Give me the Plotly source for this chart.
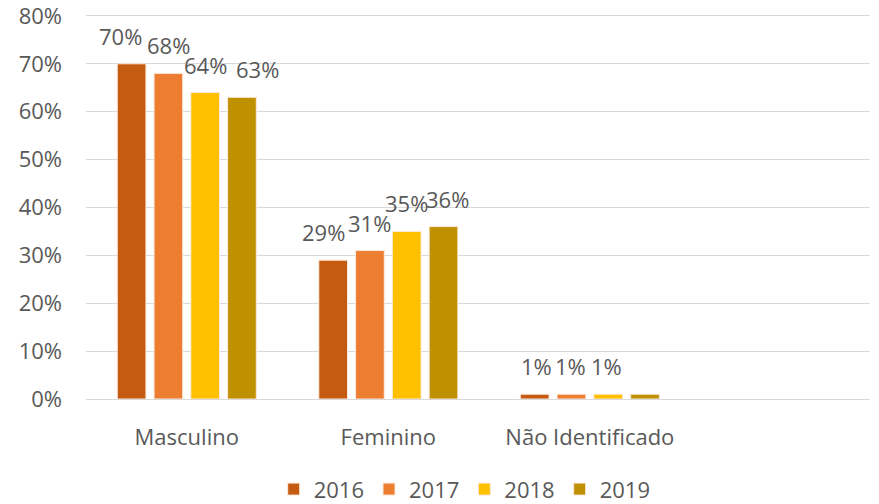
import plotly.graph_objects as go

categories = ["Masculino", "Feminino", "Não Identificado"]
years = ["2016", "2017", "2018", "2019"]
values = {
    "2016": [0.70, 0.29, 0.01],
    "2017": [0.68, 0.31, 0.01],
    "2018": [0.64, 0.35, 0.01],
    "2019": [0.63, 0.36, 0.01],
}
labels = {
    "2016": ["70%", "29%", "1%"],
    "2017": ["68%", "31%", "1%"],
    "2018": ["64%", "35%", "1%"],
    "2019": ["63%", "36%", ""],
}
colors = ["#C55A11", "#ED7D31", "#FFC000", "#BF9000"]
y_ticks = [0, 0.1, 0.2, 0.3, 0.4, 0.5, 0.6, 0.7, 0.8]

# small sideways nudges so neighbouring labels do not collide (as in the source)
label_nudge = {
    "2016": [-11, -10, 2],
    "2017": [0, 0, -1],
    "2018": [0, 0, -2],
    "2019": [16, 4, 0],
}

font_family = "Open Sans, Noto Sans, sans-serif"
grey = "#595959"
fsize = 22

width, height = 879, 504
margin = {"l": 86, "r": 9, "t": 14, "b": 105}
x_range = [-0.5, 3.39]
bargap = 0.27

fig = go.Figure()
for year, color in zip(years, colors):
    fig.add_trace(
        go.Bar(
            x=categories,
            y=values[year],
            name=year,
            marker={"color": color, "line": {"color": "#fbe9dc", "width": 1}},
        )
    )

# data labels: bar centres follow from the grouped bar layout
slot_px = (width - margin["l"] - margin["r"]) / (x_range[1] - x_range[0])
bar_px = slot_px * (1 - bargap) / len(years)
for i, year in enumerate(years):
    offset = (i - (len(years) - 1) / 2) * bar_px
    for cat, val, lab, nudge in zip(categories, values[year], labels[year], label_nudge[year]):
        if not lab:
            continue
        fig.add_annotation(
            x=cat,
            y=val,
            text=lab,
            showarrow=False,
            xshift=offset + nudge,
            yshift=11,
            yanchor="bottom",
            font={"size": fsize, "color": grey},
        )

fig.update_layout(
    width=width,
    height=height,
    margin={**margin, "autoexpand": False},
    paper_bgcolor="white",
    plot_bgcolor="white",
    font={"family": font_family, "size": fsize, "color": grey},
    barmode="group",
    bargap=bargap,
    bargroupgap=0.22,
    showlegend=True,
    legend={
        "orientation": "h",
        "x": 0.483,
        "xanchor": "center",
        "y": -0.18,
        "yanchor": "top",
        "font": {"size": fsize, "color": grey},
        "itemwidth": 30,
    },
)

fig.update_xaxes(
    type="category",
    range=x_range,
    automargin=False,
    showline=True,
    linecolor="#d9d9d9",
    linewidth=1,
    ticks="",
    ticklabelstandoff=19,
    tickfont={"size": fsize, "color": grey},
)
fig.update_yaxes(
    range=[0, 0.804],
    tickmode="array",
    tickvals=y_ticks,
    ticktext=[f"{round(v * 100)}%" for v in y_ticks],
    automargin=False,
    ticklabeloverflow="allow",
    showgrid=True,
    gridcolor="#d9d9d9",
    gridwidth=1,
    zeroline=False,
    showline=False,
    ticks="",
    ticklabelstandoff=23,
    tickfont={"size": fsize, "color": grey},
)

# drop the browser's default page margin so the figure fills the window
fig.write_html(
    "out.html",
    config={"displayModeBar": False},
    post_script="document.body.style.margin = '0';",
)
